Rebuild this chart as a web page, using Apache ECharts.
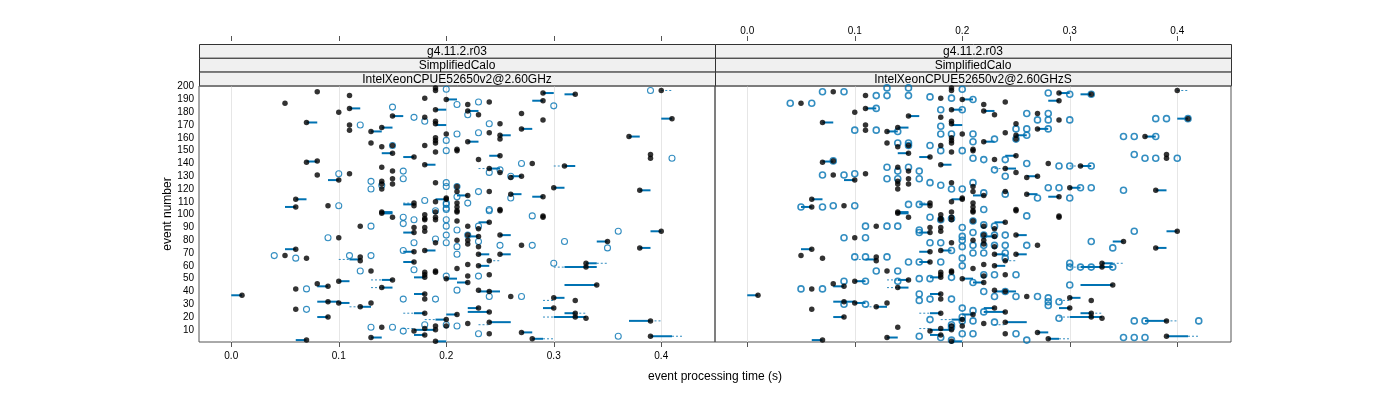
<!DOCTYPE html>
<html>
<head>
<meta charset="utf-8">
<script src="https://cdn.jsdelivr.net/npm/echarts@6/dist/echarts.min.js"></script>
<style>
html, body { margin: 0; padding: 0; background: #fff; }
#chart { width: 1400px; height: 400px; }
</style>
</head>
<body>
<div id="chart"></div>
<script>
// tick labels
const timeTicks = [0, 0.1, 0.2, 0.3, 0.4];
const eventTicks = [10, 20, 30, 40, 50, 60, 70, 80, 90, 100, 110, 120, 130, 140, 150, 160, 170, 180, 190, 200];
const stripRows = ['g4.11.2.r03', 'SimplifiedCalo'];
const panelCpus = ['IntelXeonCPUE52650v2@2.60GHz', 'IntelXeonCPUE52650v2@2.60GHzS'];

// black dots: [time, event]
const medianPoints = [
  [0.08,196],[0.05,187],[0.11,193],[0.10,180],[0.11,183],[0.07,172],[0.11,170],[0.11,166],[0.13,165],[0.14,168],
  [0.13,156],[0.14,153],[0.15,177],[0.15,154],[0.15,148],[0.17,145],[0.18,154],[0.18,139],[0.07,141],[0.08,142],
  [0.08,131],[0.11,132],[0.10,127],[0.14,137],[0.15,134],[0.14,126],[0.14,124],[0.14,120],[0.15,128],[0.15,124],
  [0.06,112],[0.06,106],[0.09,107],[0.17,109],[0.17,107],[0.18,100],[0.18,97],[0.14,102],[0.15,98],[0.19,199],
  [0.19,197],[0.20,190],[0.19,182],[0.19,173],[0.19,171],[0.18,176],[0.18,191],[0.19,160],[0.19,158],[0.19,156],
  [0.19,149],[0.19,125],[0.20,163],[0.21,151],[0.21,122],[0.20,112],[0.19,110],[0.19,102],[0.19,98],
  [0.40,197],[0.29,195],[0.32,194],[0.29,189],[0.22,186],[0.22,181],[0.24,188],[0.23,178],[0.27,179],[0.29,174],
  [0.41,175],[0.25,171],[0.27,167],[0.24,164],[0.25,162],[0.25,159],[0.22,157],[0.37,161],[0.21,150],[0.25,146],
  [0.23,143],[0.39,147],[0.39,144],[0.28,140],[0.24,136],[0.25,133],[0.31,138],[0.27,130],[0.26,129],[0.30,121],
  [0.38,119],[0.21,118],[0.21,109],[0.21,106],[0.21,103],[0.20,113],[0.22,115],[0.24,118],[0.26,116],[0.29,114],
  [0.25,104],[0.29,99],
  [0.14,101],[0.18,96],[0.18,90],[0.18,87],[0.19,96],[0.17,90],[0.17,86],[0.12,91],[0.10,82],[0.19,78],
  [0.17,71],[0.18,72],[0.17,63],[0.06,73],[0.05,68],[0.07,66],[0.12,67],[0.12,64],[0.13,56],[0.18,55],
  [0.18,53],[0.19,56],[0.19,55],[0.18,51],[0.20,50],[0.15,49],[0.14,43],[0.09,44],[0.10,48],[0.08,46],
  [0.06,42],[0.01,37],[0.18,38],[0.18,34],[0.09,32],[0.10,31],[0.12,28],[0.13,31],[0.06,26],[0.09,20],
  [0.18,23],[0.20,18],[0.21,22],[0.14,12],[0.17,9],[0.18,11],[0.18,6],[0.19,13],[0.19,10],[0.07,2],
  [0.13,4],[0.19,1],
  [0.21,102],[0.25,103],[0.29,98],[0.21,95],[0.24,94],[0.22,91],[0.23,89],[0.25,84],[0.22,84],[0.23,83],
  [0.21,80],[0.22,80],[0.22,77],[0.23,75],[0.27,76],[0.23,69],[0.25,69],[0.24,64],[0.22,61],[0.21,58],
  [0.23,60],[0.22,52],[0.24,53],[0.22,47],[0.23,41],[0.24,40],[0.26,36],[0.30,35],[0.32,33],[0.30,27],
  [0.32,23],[0.32,20],[0.33,19],[0.23,27],[0.24,24],[0.22,15],[0.24,16],[0.20,13],[0.24,7],[0.27,8],
  [0.28,3],[0.33,62],[0.33,59],[0.34,45],[0.35,79],[0.38,74],[0.40,87],[0.39,17],[0.39,5]
];

// solid blue bars: [event, from, to]
const quartileBars = [
  [183,0.11,0.12],[172,0.07,0.08],[165,0.13,0.14],[168,0.14,0.15],[177,0.15,0.16],[148,0.14,0.15],[145,0.16,0.17],
  [139,0.18,0.19],[141.5,0.07,0.08],[127,0.09,0.10],[112,0.06,0.07],[106,0.05,0.06],[108,0.16,0.17],[102,0.14,0.15],
  [190,0.20,0.21],[182,0.19,0.20],[170,0.19,0.20],[112,0.19,0.20],
  [195,0.29,0.30],[194,0.31,0.32],[189,0.28,0.29],[181,0.22,0.23],[175,0.40,0.41],[167,0.27,0.28],[162,0.25,0.26],
  [157,0.22,0.23],[161,0.37,0.38],[146,0.24,0.25],[136,0.24,0.25],[138,0.31,0.32],[130,0.26,0.27],[121,0.30,0.31],
  [119,0.38,0.39],[115,0.21,0.22],[116,0.26,0.27],[114,0.28,0.29],
  [101,0.14,0.15],[86,0.16,0.17],[71,0.16,0.17],[72,0.18,0.19],[63,0.16,0.17],[73,0.05,0.06],[65,0.11,0.12],
  [51,0.17,0.18],[49,0.14,0.15],[43,0.14,0.15],[44,0.08,0.09],[48,0.10,0.11],[37,0.0,0.01],[38,0.17,0.18],
  [32,0.08,0.10],[31,0.10,0.11],[28,0.12,0.13],[20,0.08,0.09],[23,0.17,0.18],[18,0.19,0.20],[22,0.20,0.21],
  [10,0.17,0.19],[6,0.17,0.18],[2,0.06,0.07],[4,0.13,0.14],[1,0.19,0.20],
  [94,0.23,0.24],[84,0.25,0.26],[83,0.22,0.23],[69,0.23,0.24],[69,0.25,0.26],[60,0.23,0.24],[47,0.21,0.22],
  [50,0.20,0.21],[40,0.23,0.25],[35,0.30,0.31],[27,0.29,0.30],[23,0.31,0.32],[20,0.30,0.33],[27,0.22,0.23],
  [24,0.22,0.24],[16,0.24,0.26],[8,0.27,0.28],[3,0.28,0.29],[62,0.33,0.34],[59,0.31,0.34],[45,0.31,0.34],
  [79,0.34,0.35],[74,0.38,0.39],[87,0.39,0.40],[17,0.37,0.39],[5,0.39,0.41]
];

// thin dashed extensions: [event, from, to]
const rangeDashes = [
  [109,0.16,0.17],[136,0.23,0.24],[138,0.30,0.31],[65,0.10,0.11],[49,0.13,0.14],[43,0.13,0.14],[28,0.11,0.12],
  [23,0.16,0.17],[18,0.18,0.19],[64,0.24,0.25],[62,0.34,0.35],[33,0.29,0.30],[23,0.32,0.33],[20,0.29,0.30],
  [17,0.39,0.40],[5,0.41,0.42],[3,0.29,0.30],[197,0.40,0.41],[11,0.16,0.17],[14,0.23,0.24],[59,0.30,0.31]
];

// blue open circles, left panel: [time, event]
const runsLeft = [
  [0.20,198],[0.15,184],[0.17,176],[0.18,173],[0.12,170],[0.21,186],[0.20,158],[0.20,150],[0.21,163],[0.15,154],
  [0.10,132],[0.16,134],[0.16,128],[0.13,126],[0.14,123],[0.13,120],[0.10,107],[0.18,111],[0.19,103],[0.16,98],
  [0.17,96],[0.20,125],[0.20,122],[0.20,108],[0.20,104],
  [0.39,197],[0.23,188],[0.22,178],[0.24,171],[0.30,185],[0.23,164],[0.41,144],[0.27,140],[0.24,133],[0.25,135],
  [0.26,130],[0.21,122],[0.21,114],[0.23,118],[0.26,113],[0.20,109],[0.20,105],[0.22,109],[0.24,104],[0.28,99],
  [0.16,93],[0.13,91],[0.09,82],[0.20,91],[0.20,84],[0.20,78],[0.17,78],[0.19,81],[0.16,72],[0.04,68],
  [0.06,66],[0.11,68],[0.13,68],[0.12,56],[0.17,57],[0.20,52],[0.07,42],[0.16,34],[0.19,34],[0.07,26],
  [0.13,12],[0.15,12],[0.16,9],[0.18,14],[0.20,14],
  [0.24,103],[0.20,96],[0.21,88],[0.21,75],[0.21,69],[0.23,91],[0.23,79],[0.22,84],[0.25,76],[0.28,76],
  [0.31,79],[0.36,87],[0.35,74],[0.30,62],[0.23,52],[0.21,41],[0.24,36],[0.27,36],[0.21,13],[0.23,7],[0.36,5]
];

// blue open circles, right panel: [time, event]
const runsRight = [
  [0.07,196],[0.09,196],[0.04,187],[0.06,187],[0.12,193],[0.13,193],[0.15,193],[0.13,199],[0.15,199],[0.12,183],
  [0.10,166],[0.12,166],[0.14,165],[0.14,156],[0.15,156],[0.15,154],[0.08,142],[0.07,131],[0.09,131],[0.10,132],
  [0.13,137],[0.14,134],[0.15,137],[0.16,134],[0.13,128],[0.14,128],[0.16,128],[0.05,106],[0.07,106],[0.08,107],
  [0.10,107],[0.15,108],[0.16,108],[0.17,192],[0.19,191],[0.20,198],[0.18,182],[0.20,182],[0.18,169],[0.18,163],
  [0.19,163],[0.21,163],[0.17,154],[0.18,150],[0.20,150],[0.21,157],[0.21,144],[0.17,125],[0.18,123],[0.19,120],
  [0.20,120],[0.21,125],[0.17,98],[0.19,97],
  [0.21,190],[0.28,195],[0.30,194],[0.32,194],[0.38,175],[0.39,175],[0.41,175],[0.35,161],[0.36,161],[0.38,161],
  [0.36,147],[0.37,144],[0.38,144],[0.40,144],[0.26,179],[0.28,179],[0.27,174],[0.28,174],[0.30,174],[0.25,167],
  [0.26,167],[0.28,167],[0.26,162],[0.23,159],[0.25,159],[0.22,143],[0.24,143],[0.26,140],[0.29,138],[0.30,138],
  [0.32,138],[0.23,135],[0.24,130],[0.28,121],[0.29,121],[0.31,121],[0.32,121],[0.35,119],[0.24,116],[0.27,113],
  [0.30,113],[0.22,117],[0.22,104],[0.26,99],
  [0.11,91],[0.13,91],[0.14,91],[0.09,82],[0.11,82],[0.10,67],[0.11,67],[0.13,67],[0.12,56],[0.14,56],
  [0.09,48],[0.11,48],[0.05,42],[0.07,42],[0.09,30],[0.11,30],[0.15,63],[0.16,63],[0.18,63],[0.14,48],
  [0.16,50],[0.17,50],[0.19,51],[0.16,38],[0.16,33],[0.17,34],[0.19,34],[0.17,78],[0.18,78],[0.19,72],
  [0.20,75],[0.16,88],[0.16,86],[0.18,96],[0.20,90],[0.20,83],[0.20,80],[0.17,18],[0.19,14],[0.19,12],
  [0.20,20],[0.16,5],[0.18,4],[0.19,2],[0.20,66],[0.20,60],[0.21,47],
  [0.36,87],[0.34,74],[0.32,79],[0.30,62],[0.30,59],[0.31,59],[0.32,59],[0.34,59],[0.30,45],[0.27,36],
  [0.28,35],[0.28,32],[0.29,32],[0.28,29],[0.29,19],[0.36,17],[0.37,17],[0.42,17],[0.35,4],[0.36,4],
  [0.37,4],[0.26,2],[0.21,95],[0.22,92],[0.23,91],[0.21,86],[0.22,84],[0.23,84],[0.24,84],[0.21,76],
  [0.22,76],[0.23,76],[0.24,76],[0.26,76],[0.21,70],[0.22,70],[0.24,70],[0.24,66],[0.22,53],[0.23,53],
  [0.25,53],[0.22,40],[0.24,40],[0.23,36],[0.25,36],[0.20,27],[0.21,25],[0.22,24],[0.20,17],[0.21,17],
  [0.23,16],[0.20,7],[0.21,7],[0.25,7]
];

const BLUE = '#0072B2';
const FONT = '"Liberation Sans", Arial, sans-serif';
const panelLeft = [199, 715];
const panelW = 516;
const panelTop = 86;
const panelH = 256;

const chart = echarts.init(document.getElementById('chart'), null, { renderer: 'canvas' });

function segment(width, dash) {
  return function (params, api) {
    const a = api.coord([api.value(1), api.value(0)]);
    const b = api.coord([api.value(2), api.value(0)]);
    return {
      type: 'line',
      shape: { x1: a[0], y1: a[1], x2: b[0], y2: b[1] },
      style: { stroke: BLUE, lineWidth: width, lineDash: dash, opacity: dash ? 0.8 : 1 }
    };
  };
}

const grids = panelLeft.map(l => ({
  left: l, top: panelTop, width: panelW, height: panelH,
  show: true, borderColor: '#555', borderWidth: 1, backgroundColor: 'transparent'
}));

const xAxes = [];
// bottom axes (0,1), top axes (2,3)
[0, 1].forEach(i => {
  xAxes.push({
    type: 'value', gridIndex: i, position: 'bottom', min: -0.03, max: 0.45,
    axisLine: { show: false },
    axisTick: { show: true, length: 5, lineStyle: { color: '#555' }, customValues: timeTicks },
    axisLabel: { show: i === 0, customValues: timeTicks, margin: 9, fontSize: 10, color: '#000', fontFamily: FONT,
      formatter: v => v.toFixed(1) },
    splitLine: { show: true, lineStyle: { color: '#e6e6e6', width: 1 } }
  });
});
[0, 1].forEach(i => {
  xAxes.push({
    type: 'value', gridIndex: i, position: 'top', offset: 45, min: -0.03, max: 0.45,
    axisLine: { show: false },
    axisTick: { show: true, length: 5, lineStyle: { color: '#555' }, customValues: timeTicks },
    axisLabel: { show: i === 1, customValues: timeTicks, margin: 5, fontSize: 10, color: '#000', fontFamily: FONT,
      formatter: v => v.toFixed(1) },
    splitLine: { show: false }
  });
});

const yAxes = [0, 1].map(i => ({
  type: 'value', gridIndex: i, min: 0.5, max: 200.5,
  axisLine: { show: false },
  axisTick: { show: false },
  axisLabel: { show: i === 0, customValues: eventTicks, margin: 5, fontSize: 10, color: '#000', fontFamily: FONT },
  splitLine: { show: false },
  name: i === 0 ? 'event number' : '',
  nameLocation: 'middle', nameGap: 24, nameRotate: 90,
  nameTextStyle: { fontSize: 12, color: '#000', fontFamily: FONT }
}));

const series = [];
[runsLeft, runsRight].forEach((runs, i) => {
  series.push({
    type: 'custom', xAxisIndex: i, yAxisIndex: i, renderItem: segment(1, [2, 2]),
    encode: { x: [1, 2], y: 0 }, data: rangeDashes, silent: true, z: 2
  });
  series.push({
    type: 'custom', xAxisIndex: i, yAxisIndex: i, renderItem: segment(2, null),
    encode: { x: [1, 2], y: 0 }, data: quartileBars, silent: true, z: 3
  });
  series.push({
    type: 'scatter', xAxisIndex: i, yAxisIndex: i, data: runs, symbol: 'circle', symbolSize: 6,
    itemStyle: { color: 'rgba(255,255,255,0)', borderColor: BLUE, borderWidth: i === 1 ? 1.6 : 1.1 },
    silent: true, z: 4
  });
  series.push({
    type: 'scatter', xAxisIndex: i, yAxisIndex: i, data: medianPoints, symbol: 'circle', symbolSize: 5.5,
    itemStyle: { color: '#000' }, silent: true, z: 5
  });
});

// strip labels above each panel
const graphics = [];
panelLeft.forEach((l, i) => {
  const rows = stripRows.concat([panelCpus[i]]);
  rows.forEach((t, r) => {
    graphics.push({
      type: 'rect', shape: { x: l + 0.5, y: 44.5 + r * 13.8, width: panelW, height: 13.8 },
      style: { fill: '#f0f0f0', stroke: '#333', lineWidth: 1 }, z: 1
    });
    graphics.push({
      type: 'text', x: l + panelW / 2, y: 44.5 + r * 13.8 + 7.2,
      style: { text: t, fill: '#000', font: '12px ' + FONT, textAlign: 'center', textVerticalAlign: 'middle' }, z: 2
    });
  });
});
graphics.push({
  type: 'text', x: 715, y: 377,
  style: { text: 'event processing time (s)', fill: '#000', font: '12px ' + FONT, textAlign: 'center', textVerticalAlign: 'middle' }
});

chart.setOption({
  animation: false,
  backgroundColor: '#fff',
  grid: grids,
  xAxis: xAxes,
  yAxis: yAxes,
  series: series,
  graphic: graphics
});
</script>
</body>
</html>
